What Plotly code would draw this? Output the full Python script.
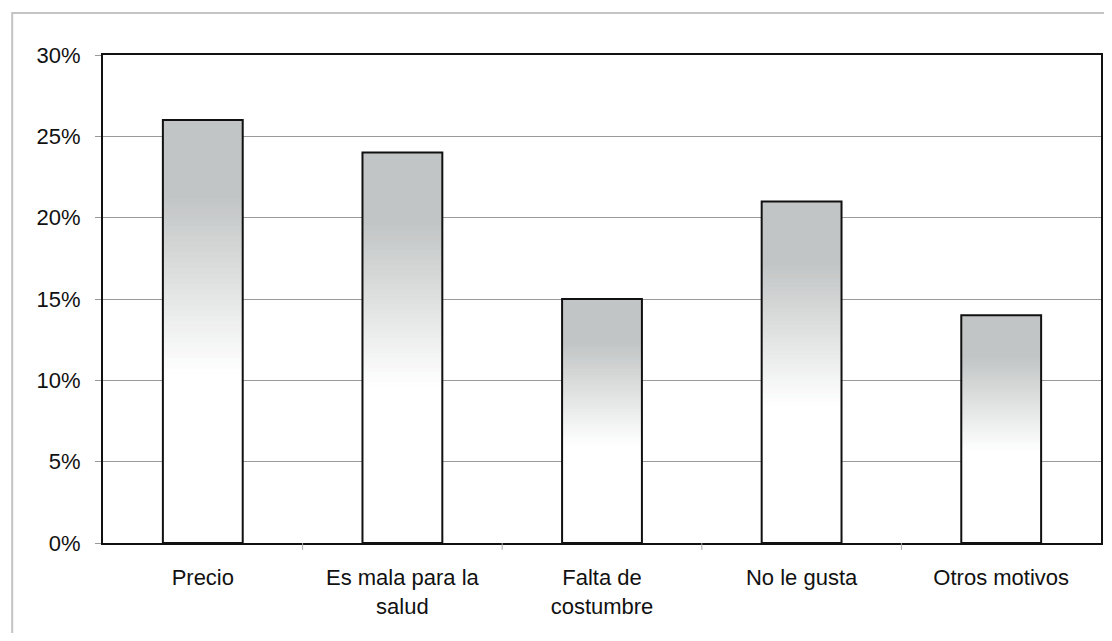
import plotly.graph_objects as go

categories = ["Precio", "Es mala para la<br>salud", "Falta de<br>costumbre", "No le gusta", "Otros motivos"]
values = [0.26, 0.24, 0.15, 0.21, 0.14]
tick_vals = [0, 0.05, 0.10, 0.15, 0.20, 0.25, 0.30]
tick_text = ["0%", "5%", "10%", "15%", "20%", "25%", "30%"]

N = 80
TOP = (194, 197, 197)
BOT = (255, 255, 255)

def shade(f):
    # f: fraction of bar height from bottom (0..1)
    lo, hi = 0.40, 0.82
    if f >= hi:
        t = 1.0
    elif f <= lo:
        t = 0.0
    else:
        t = (f - lo) / (hi - lo)
    c = [round(BOT[k] + (TOP[k] - BOT[k]) * t) for k in range(3)]
    return "rgb(%d,%d,%d)" % tuple(c)

fig = go.Figure()
for i in range(N):
    f = (i + 0.5) / N
    ext = 1.0 if i == N - 1 else 2.0
    fig.add_trace(go.Bar(
        x=categories,
        y=[v / N * ext for v in values],
        base=[v * i / N for v in values],
        width=0.4,
        marker=dict(color=shade(f), line=dict(width=0)),
        hoverinfo="skip",
        showlegend=False,
    ))

fig.add_trace(go.Bar(
    x=categories,
    y=values,
    width=0.4,
    marker=dict(color="rgba(0,0,0,0)", line=dict(color="#111111", width=2)),
    showlegend=False,
))

fig.add_shape(type="rect", xref="paper", yref="paper",
              x0=-0.091, x1=1.03, y0=-0.3, y1=1.086,
              line=dict(color="#c4c4c4", width=2), layer="below")

fig.update_layout(
    width=1104, height=625,
    margin=dict(l=95, r=9, t=47, b=90),
    barmode="overlay",
    plot_bgcolor="white",
    paper_bgcolor="white",
    font=dict(family="Liberation Sans, Arial, sans-serif", size=22, color="#111111"),
    xaxis=dict(
        type="category",
        showgrid=False,
        showline=True, linecolor="#111111", linewidth=2, mirror=True,
        ticks="", tickfont=dict(size=22),
        ticklabelstandoff=14,
    ),
    yaxis=dict(
        range=[0, 0.30],
        tickvals=tick_vals, ticktext=tick_text,
        showgrid=True, gridcolor="#9a9a9a", gridwidth=1,
        showline=True, linecolor="#111111", linewidth=2, mirror=True,
        ticks="outside", ticklen=6, tickcolor="#999999",
        zeroline=False,
        tickfont=dict(size=22),
        ticklabelstandoff=10,
    ),
)

# category separator ticks on x axis
for k in range(1, len(categories)):
    fig.add_shape(type="line", xref="x", yref="paper",
                  x0=k - 0.5, x1=k - 0.5, y0=0, y1=-0.014,
                  line=dict(color="#aaaaaa", width=1))

fig.write_html("out.html")
